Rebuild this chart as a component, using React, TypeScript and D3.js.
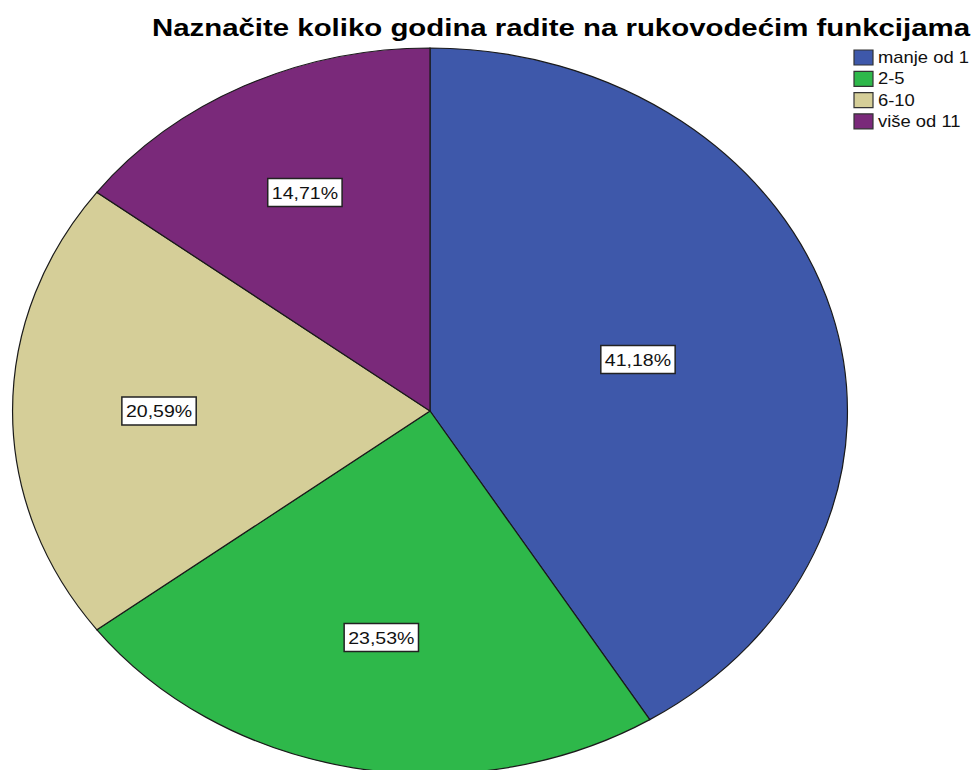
import React from "react";
import * as d3 from "d3";

const categories = ["manje od 1", "2-5", "6-10", "više od 11"];
const percents = [41.18, 23.53, 20.59, 14.71];
const labels = ["41,18%", "23,53%", "20,59%", "14,71%"];
const colors = ["#3e58aa", "#2eb84a", "#d5ce98", "#7a297a"];
const title = "Naznačite koliko godina radite na rukovodećim funkcijama";

const W = 973;
const H = 770;
const SX = 1.15; // horizontal stretch of the original output
const cx = 430 / SX;
const cy = 411;
const R = 363;
const FONT = "'Liberation Sans', Arial, sans-serif";

function textWidth(t: string, size: number) {
  // approximate Arial metrics
  let w = 0;
  for (const ch of t) {
    if (ch === "," || ch === ".") w += 0.278;
    else if (ch === "%") w += 0.889;
    else w += 0.556;
  }
  return w * size;
}

export default function App() {
  const pie = d3.pie<number>().sort(null).value((d) => d);
  const arcs = pie(percents);
  const arc = d3.arc<d3.PieArcDatum<number>>().innerRadius(0).outerRadius(R);
  const labelSize = 17;

  return (
    <svg
      width={W}
      height={H}
      style={{ position: "absolute", left: 0, top: 0, display: "block", background: "#fff" }}
    >
      <g transform={`scale(${SX},1)`}>
        <g transform={`translate(${cx},${cy})`}>
          {arcs.map((a, i) => (
            <path
              key={i}
              d={arc(a) || ""}
              fill={colors[i]}
              stroke="#1a1a1a"
              strokeWidth={1.2}
              vectorEffect="non-scaling-stroke"
            />
          ))}
          {arcs.map((a, i) => {
            const half = (a.endAngle - a.startAngle) / 2;
            const mid = (a.startAngle + a.endAngle) / 2;
            const dist = ((2 * R * Math.sin(half)) / (3 * half)) * 1.045;
            const x = Math.sin(mid) * dist;
            const y = -Math.cos(mid) * dist;
            const tw = textWidth(labels[i], labelSize);
            const bw = tw + 7;
            const bh = 28;
            return (
              <g key={"l" + i} transform={`translate(${x},${y})`}>
                <rect
                  x={-bw / 2}
                  y={-bh / 2}
                  width={bw}
                  height={bh}
                  fill="#fff"
                  stroke="#222"
                  strokeWidth={1.5}
                  vectorEffect="non-scaling-stroke"
                />
                <text
                  x={0}
                  y={6}
                  textAnchor="middle"
                  fontFamily={FONT}
                  fontSize={labelSize}
                  fill="#111"
                >
                  {labels[i]}
                </text>
              </g>
            );
          })}
        </g>
        <text
          x={152 / SX}
          y={36}
          fontFamily={FONT}
          fontWeight="bold"
          fontSize={23}
          fill="#000"
          textLength={(970 - 152) / SX}
          lengthAdjust="spacingAndGlyphs"
        >
          {title}
        </text>
        {categories.map((c, i) => (
          <g key={"lg" + i} transform={`translate(${854 / SX},${50 + i * 21.3})`}>
            <rect
              x={0}
              y={0}
              width={19 / SX}
              height={15}
              fill={colors[i]}
              stroke="#333"
              strokeWidth={1.2}
              vectorEffect="non-scaling-stroke"
            />
            <text x={24 / SX} y={13} fontFamily={FONT} fontSize={16} fill="#111">
              {c}
            </text>
          </g>
        ))}
      </g>
    </svg>
  );
}
